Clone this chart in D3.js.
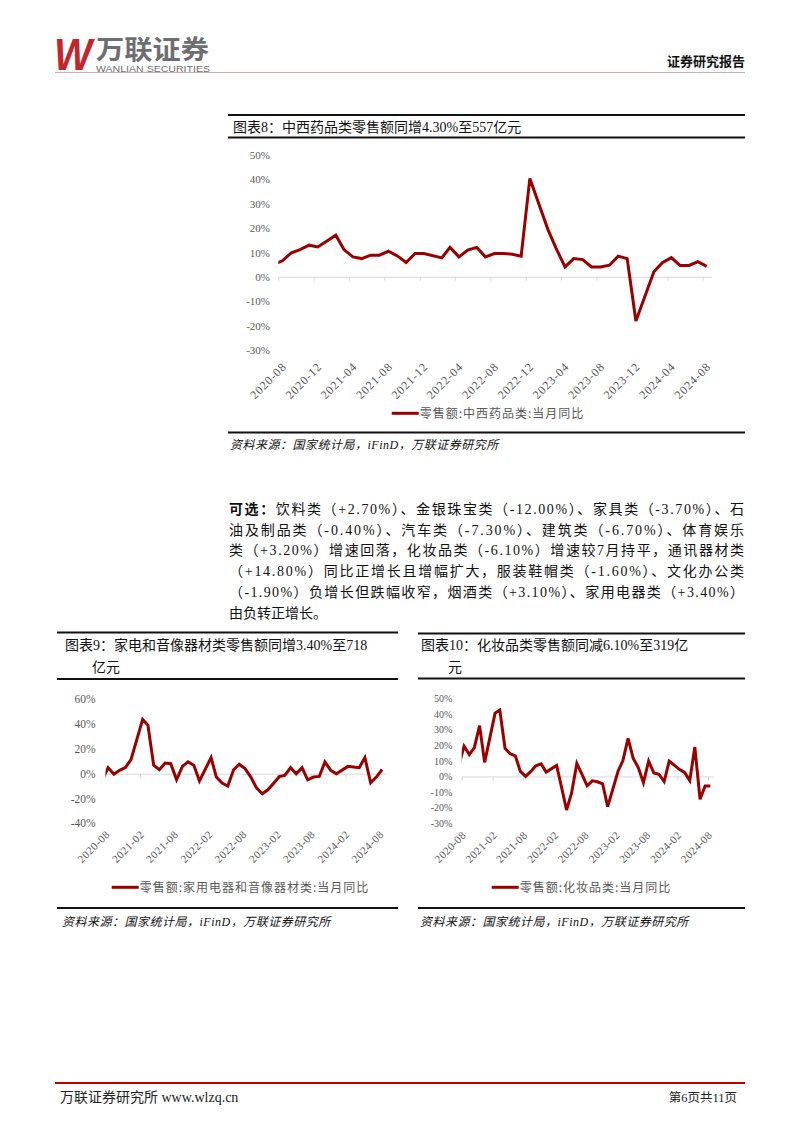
<!DOCTYPE html>
<html><head><meta charset="utf-8">
<script src="https://cdn.jsdelivr.net/npm/d3@7"></script>
<style>body{margin:0;background:#fff} svg{display:block}</style>
</head><body><svg id="page" width="802" height="1133"></svg>
<script>
// ---------------- DATA ----------------
// monthly YoY (%); January merged into Jan-Feb (February) so no January points
const months = ["2020-07","2020-08","2020-09","2020-10","2020-11","2020-12",
"2021-02","2021-03","2021-04","2021-05","2021-06","2021-07","2021-08","2021-09","2021-10","2021-11","2021-12",
"2022-02","2022-03","2022-04","2022-05","2022-06","2022-07","2022-08","2022-09","2022-10","2022-11","2022-12",
"2023-02","2023-03","2023-04","2023-05","2023-06","2023-07","2023-08","2023-09","2023-10","2023-11","2023-12",
"2024-02","2024-03","2024-04","2024-05","2024-06","2024-07","2024-08"];
const medicineValues = [5.1,6.6,9.9,11.2,13.0,12.3,
17.1,11.2,8.2,7.5,8.9,8.9,10.5,8.6,5.9,9.6,9.6,
7.8,12.1,8.2,11.0,12.1,8.2,9.6,9.6,9.3,8.5,40.4,
19.5,11.8,4.1,7.5,7.1,4.1,4.1,4.8,8.5,7.5,-18.1,
2.1,5.8,7.9,4.7,4.7,6.2,4.3];
const applianceValues = [-5.0,4.9,-0.5,2.7,4.9,11.4,
43.8,39.2,6.8,3.2,8.6,8.1,-4.9,5.9,9.5,6.8,-5.9,
13.0,-2.7,-7.6,-10.0,3.2,7.6,4.1,-2.7,-11.4,-16.2,-13.0,
-2.2,-1.4,4.9,0.0,4.9,-4.9,-2.7,-2.2,9.5,2.7,0.0,
5.9,5.4,4.9,13.0,-7.3,-2.7,3.4];
const cosmeticsValues = [7.0,19.4,14.0,18.5,32.5,9.0,
40.5,42.5,18.0,14.5,13.2,3.2,0.0,3.2,6.8,8.1,2.8,
7.0,-6.3,-21.5,-10.6,8.3,1.5,-6.0,-2.8,-3.4,-4.7,-19.3,
3.5,10.0,24.4,11.7,5.5,-4.0,9.8,2.2,1.4,-3.3,9.8,
4.4,2.6,-2.6,18.8,-14.6,-6.1,-6.1];

const ticks8 = ["2020-08","2020-12","2021-04","2021-08","2021-12","2022-04","2022-08","2022-12","2023-04","2023-08","2023-12","2024-04","2024-08"];
const ticks6m = ["2020-08","2021-02","2021-08","2022-02","2022-08","2023-02","2023-08","2024-02","2024-08"];
const yTicks8 = [-30,-20,-10,0,10,20,30,40,50];
const yTicks9 = [-40,-20,0,20,40,60];
const yTicks10 = [-30,-20,-10,0,10,20,30,40,50];

const title8 = "图表8：中西药品类零售额同增4.30%至557亿元";
const title9 = ["图表9：家电和音像器材类零售额同增3.40%至718","亿元"];
const title10 = ["图表10：化妆品类零售额同减6.10%至319亿","元"];
const legend8 = "零售额:中西药品类:当月同比";
const legend9 = "零售额:家用电器和音像器材类:当月同比";
const legend10 = "零售额:化妆品类:当月同比";
const sourceText = "资料来源：国家统计局，iFinD，万联证券研究所";
const paraLines = [
 ["可选：","饮料类（+2.70%）、金银珠宝类（-12.00%）、家具类（-3.70%）、石"],
 ["","油及制品类（-0.40%）、汽车类（-7.30%）、建筑类（-6.70%）、体育娱乐"],
 ["","类（+3.20%）增速回落，化妆品类（-6.10%）增速较7月持平，通讯器材类"],
 ["","（+14.80%）同比正增长且增幅扩大，服装鞋帽类（-1.60%）、文化办公类"],
 ["","（-1.90%）负增长但跌幅收窄，烟酒类（+3.10%）、家用电器类（+3.40%）"],
 ["","由负转正增长。"]
];

// ---------------- DRAW ----------------
const svg = d3.select("#page");
const RED = "#990000";
const CJK = "'Noto Sans CJK SC', sans-serif";
const MIX = "'Liberation Serif', 'Noto Sans CJK SC', serif";
const GREY = "#595959";
const parseM = d3.timeParse("%Y-%m");
const dataDate = s => { const d = parseM(s); return new Date(d.getFullYear(), d.getMonth(), 15); };

// header
svg.append("text").attr("x", 54).attr("y", 70).attr("font-family","'Liberation Sans', sans-serif")
  .attr("font-weight","bold").attr("font-style","italic").attr("font-size", 45).attr("fill","#C1272D")
  .attr("textLength", 38).attr("lengthAdjust","spacingAndGlyphs").text("W");
svg.append("text").attr("x", 96).attr("y", 59).attr("font-family", CJK).attr("font-weight","bold")
  .attr("font-size", 26).attr("fill","#6d6e71").attr("textLength",113).attr("lengthAdjust","spacingAndGlyphs").text("万联证券");
svg.append("text").attr("x", 96).attr("y", 72).attr("font-family","'Liberation Sans', sans-serif")
  .attr("font-size", 9).attr("fill","#6d6e71").attr("textLength",114).attr("lengthAdjust","spacingAndGlyphs").text("WANLIAN SECURITIES");
svg.append("text").attr("x", 745).attr("y", 66).attr("text-anchor","end").attr("font-family", CJK).attr("font-weight","bold")
  .attr("font-size", 13).attr("fill","#111").text("证券研究报告");
svg.append("line").attr("x1",55).attr("x2",745).attr("y1",72.5).attr("y2",72.5).attr("stroke","#d4a9ae").attr("stroke-width",1.2);

// footer
svg.append("line").attr("x1",55).attr("x2",745).attr("y1",1083).attr("y2",1083).attr("stroke","#C00000").attr("stroke-width",2);
svg.append("text").attr("x",60).attr("y",1102).attr("font-family", MIX).attr("font-size",14).attr("fill","#222").text("万联证券研究所 www.wlzq.cn");
svg.append("text").attr("x",737).attr("y",1102).attr("text-anchor","end").attr("font-family", MIX).attr("font-size",12.5).attr("fill","#222").text("第6页共11页");

// paragraph
paraLines.forEach((ln, i) => {
  const t = svg.append("text").attr("x", 229).attr("y", 514 + i * 20.7).attr("font-family", MIX)
    .attr("font-size", 14).attr("fill", "#111");
  if (i < 5) t.attr("textLength", 515).attr("lengthAdjust", "spacing");
  if (ln[0]) t.append("tspan").attr("font-weight","bold").text(ln[0]);
  t.append("tspan").text(ln[1]);
});

function frame(cfg) {
  const g = svg.append("g");
  [cfg.top, cfg.mid, cfg.bottom].forEach(yy =>
    g.append("line").attr("x1", cfg.fx0).attr("x2", cfg.fx1).attr("y1", yy).attr("y2", yy)
      .attr("stroke", "#111").attr("stroke-width", 2));
  cfg.title.forEach((t, i) =>
    g.append("text").attr("x", cfg.titleX[i]).attr("y", cfg.titleY[i]).attr("font-family", MIX)
      .attr("font-size", 14).attr("fill", "#111").text(t));
  g.append("text").attr("x", cfg.srcX).attr("y", cfg.srcY).attr("font-family", MIX).attr("font-style","italic")
    .attr("font-size", 12).attr("letter-spacing", 0.5).attr("fill", "#111").text(sourceText);
}

function chart(cfg) {
  const g = svg.append("g");
  const x = d3.scaleTime().domain([parseM("2020-08"), parseM("2024-09")]).range(cfg.xr);
  const y = d3.scaleLinear().domain(cfg.yd).range(cfg.yr);
  const tickDates = cfg.ticks.map(parseM);
  const fmt = d3.timeFormat("%Y-%m");

  // y labels
  g.append("g").attr("transform", `translate(${cfg.yLabelX},0)`)
    .call(d3.axisLeft(y).tickValues(cfg.yTicks).tickSize(0).tickPadding(0).tickFormat(d => d + "%"))
    .call(a => a.select(".domain").remove())
    .call(a => a.selectAll("text").attr("font-family", "'Liberation Serif', serif").attr("font-size", cfg.yFont).attr("fill", GREY));

  // zero line with ticks
  g.append("g").attr("transform", `translate(0,${y(0)})`)
    .call(d3.axisBottom(x).tickValues(tickDates).tickSize(4).tickSizeOuter(0).tickFormat(""))
    .call(a => a.select(".domain").attr("stroke", "#d9d9d9").attr("stroke-width", 1))
    .call(a => a.selectAll(".tick line").attr("stroke", "#d9d9d9"));

  // x labels
  g.append("g").attr("transform", `translate(0,${cfg.labelY})`)
    .call(d3.axisBottom(x).tickValues(tickDates).tickSize(0).tickFormat(fmt))
    .call(a => a.select(".domain").remove())
    .call(a => a.selectAll("text").attr("x", 0).attr("y", 0).attr("dy", 0)
      .attr("text-anchor", "end").attr("transform", `translate(${cfg.labelDx},0) rotate(-45)`)
      .attr("font-family", "'Liberation Serif', serif").attr("font-size", cfg.xFont)
      .attr("letter-spacing", cfg.xLs).attr("fill", GREY));

  // line
  const clipId = "clip" + cfg.id;
  g.append("clipPath").attr("id", clipId).append("rect")
    .attr("x", cfg.xr[0]).attr("y", 0).attr("width", cfg.xr[1] - cfg.xr[0]).attr("height", 1133);
  const data = months.map((m, i) => ({ date: dataDate(m), value: cfg.values[i] }));
  g.append("path").datum(data).attr("clip-path", `url(#${clipId})`)
    .attr("fill", "none").attr("stroke", RED).attr("stroke-width", 3).attr("stroke-linejoin", "miter")
    .attr("d", d3.line().x(d => x(d.date)).y(d => y(d.value)));

  // legend
  g.append("line").attr("x1", cfg.legX).attr("x2", cfg.legX + 27).attr("y1", cfg.legY).attr("y2", cfg.legY)
    .attr("stroke", RED).attr("stroke-width", 3);
  g.append("text").attr("x", cfg.legX + 28).attr("y", cfg.legY + 4.5).attr("font-family", CJK)
    .attr("font-size", 12).attr("letter-spacing", 1).attr("fill", GREY).text(cfg.legend);
}

// chart 8
frame({ fx0: 228, fx1: 745, top: 115, mid: 137.5, bottom: 432.5, title: [title8], titleX: [233], titleY: [131.5], srcX: 230, srcY: 449 });
chart({ id: 8, values: medicineValues, xr: [278.3, 711.7], yd: [-30, 50], yr: [350, 155], yTicks: yTicks8, yLabelX: 270, yFont: 11,
  ticks: ticks8, labelY: 367.5, labelDx: 8.4, xFont: 12, xLs: 0.8, legX: 391.7, legY: 413.3, legend: legend8 });

// chart 9
frame({ fx0: 57, fx1: 398, top: 632.5, mid: 679, bottom: 908, title: title9, titleX: [65, 92], titleY: [650, 672], srcX: 62, srcY: 926 });
chart({ id: 9, values: applianceValues, xr: [105.5, 385.3], yd: [-40, 60], yr: [823.3, 699.3], yTicks: yTicks9, yLabelX: 95.7, yFont: 11.5,
  ticks: ticks6m, labelY: 835, labelDx: 4.5, xFont: 11, xLs: 0.5, legX: 111.7, legY: 887.3, legend: legend9 });

// chart 10
frame({ fx0: 418, fx1: 745, top: 633.5, mid: 678.5, bottom: 908, title: title10, titleX: [421, 448], titleY: [650, 672], srcX: 420, srcY: 926 });
chart({ id: 10, values: cosmeticsValues, xr: [461.7, 713.2], yd: [-30, 50], yr: [823.3, 698.3], yTicks: yTicks10, yLabelX: 452.3, yFont: 10,
  ticks: ticks6m, labelY: 836, labelDx: 4.3, xFont: 11, xLs: 0.3, legX: 491.7, legY: 887.3, legend: legend10 });
</script>
</body></html>
